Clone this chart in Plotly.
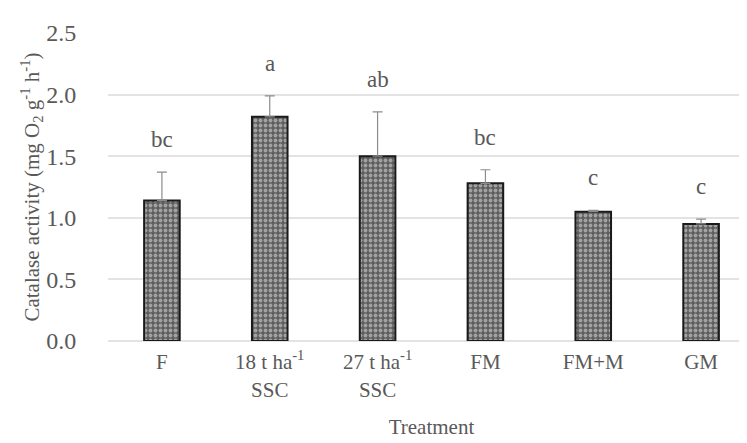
import plotly.graph_objects as go

categories = ["F", "18 t ha<sup>-1</sup><br>SSC", "27 t ha<sup>-1</sup><br>SSC", "FM", "FM+M", "GM"]
means = [1.14, 1.82, 1.50, 1.28, 1.05, 0.95]
errors = [0.23, 0.17, 0.36, 0.11, 0.01, 0.04]
letters = ["bc", "a", "ab", "bc", "c", "c"]

FONT = "Liberation Serif"
GREY = "#595959"

fig = go.Figure()
fig.add_trace(go.Bar(
    x=categories, y=means,
    width=0.33,
    marker=dict(
        color="#5e5e5e",
        line=dict(color="#1a1a1a", width=2),
        pattern=dict(shape=".", fgcolor="#e6e6e6", size=5, solidity=0.45, fillmode="overlay"),
    ),
    error_y=dict(type="data", array=errors, symmetric=False, arrayminus=[0]*len(errors),
                 color="#8c8c8c", thickness=1.2, width=5),
))

for c, m, e, t in zip(categories, means, errors, letters):
    fig.add_annotation(x=c, y=m + e, text=t, showarrow=False, yanchor="bottom", yshift=18,
                       font=dict(family=FONT, size=23, color=GREY))

fig.update_layout(
    width=747, height=443,
    margin=dict(l=100, r=0, t=25, b=110),
    plot_bgcolor="white", paper_bgcolor="white",
    showlegend=False,
    font=dict(family=FONT, color=GREY, size=21),
    bargap=0.67,
)
fig.update_xaxes(
    title=dict(text="Treatment", font=dict(family=FONT, size=21, color=GREY), standoff=18),
    tickfont=dict(family=FONT, size=21, color=GREY),
    showline=False, showgrid=False,
    ticks="outside", ticklen=2, tickcolor="rgba(0,0,0,0)",
)
fig.update_yaxes(
    range=[0, 2.5], dtick=0.5, tickformat=".1f",
    showgrid=True, gridcolor="#e3e3e3", gridwidth=1.5,
    zeroline=True, zerolinecolor="#e3e3e3", zerolinewidth=1.5,
    ticks="outside", ticklen=26, tickcolor="rgba(0,0,0,0)",
    tickfont=dict(family=FONT, size=24, color=GREY),
    title=dict(text="Catalase activity (mg O<sub>2</sub> g<sup>-1</sup> h<sup>-1</sup>)",
               font=dict(family=FONT, size=21, color=GREY), standoff=0),
)

fig.write_html("out.html")
